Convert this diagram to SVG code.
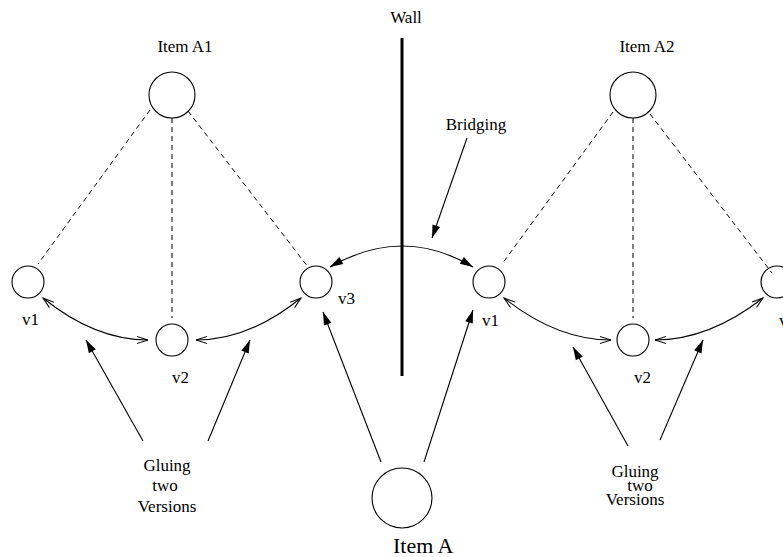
<svg xmlns="http://www.w3.org/2000/svg" width="783" height="557" viewBox="0 0 783 557">
<style>
  .node { fill: none; stroke: #000; stroke-width: 1.1; }
  .dash { fill: none; stroke: #000; stroke-width: 1; stroke-dasharray: 5,4; }
  .arr { fill: none; stroke: #000; stroke-width: 1.1; }
  .filled { marker-end: url(#fa); }
  .glue { marker-start: url(#oa); marker-end: url(#oa); }
  text { font-family: "Liberation Serif", "Times New Roman", serif; font-size: 17px; fill: #000; }
  .c { text-anchor: middle; }
</style>
<defs>
  <marker id="fa" markerUnits="userSpaceOnUse" markerWidth="14" markerHeight="10" refX="13" refY="4" orient="auto-start-reverse" overflow="visible">
    <path d="M0,0 L13,4 L0,8 z" fill="#000"/>
  </marker>
  <marker id="oa" markerUnits="userSpaceOnUse" markerWidth="12" markerHeight="10" refX="11" refY="3.5" orient="auto-start-reverse" overflow="visible">
    <path d="M0,0 L11,3.5 L0,7" fill="none" stroke="#000" stroke-width="1"/>
  </marker>
</defs>

<g id="wall">
  <line x1="402" y1="38" x2="402" y2="376" stroke="#000" stroke-width="3"/>
  <text class="c" x="406" y="23">Wall</text>
</g>

<g id="connectors">
  <line class="dash" x1="150" y1="110" x2="38" y2="264"/>
  <line class="dash" x1="172" y1="118" x2="172" y2="318"/>
  <line class="dash" x1="188" y1="111" x2="308" y2="267"/>
  <line class="dash" x1="613" y1="112" x2="502" y2="264"/>
  <line class="dash" x1="633" y1="118" x2="633" y2="318"/>
  <line class="dash" x1="650" y1="114" x2="772" y2="273"/>
  <path class="arr glue" d="M43,298 Q95,340 148,340"/>
  <path class="arr glue" d="M196,340 Q249,340 301,298"/>
  <path class="arr glue" d="M504,298 Q557,340 611,340"/>
  <path class="arr glue" d="M655,340 Q709,340 763,298"/>
  <path class="arr" d="M330,267 Q403,225 473,267" marker-start="url(#fa)" marker-end="url(#fa)"/>
  <line class="arr filled" x1="467" y1="138" x2="432" y2="238"/>
  <line class="arr filled" x1="143" y1="441" x2="86" y2="340"/>
  <line class="arr filled" x1="208" y1="441" x2="250" y2="340"/>
  <line class="arr filled" x1="381" y1="462" x2="323" y2="312"/>
  <line class="arr filled" x1="424" y1="462" x2="473" y2="310"/>
  <line class="arr filled" x1="628" y1="446" x2="573" y2="347"/>
  <line class="arr filled" x1="660" y1="440" x2="703" y2="340"/>
</g>

<g id="itemA1">
  <circle class="node" cx="172" cy="95" r="23"/>
  <text class="c" x="185" y="52">Item A1</text>
</g>
<g id="A1v1">
  <circle class="node" cx="28" cy="282" r="16"/>
  <text x="22" y="325">v1</text>
</g>
<g id="A1v2">
  <circle class="node" cx="172" cy="340" r="16"/>
  <text x="172" y="383">v2</text>
</g>
<g id="A1v3">
  <circle class="node" cx="316" cy="282" r="16"/>
  <text x="338" y="304">v3</text>
</g>

<g id="itemA2">
  <circle class="node" cx="633" cy="95" r="23"/>
  <text class="c" x="647" y="52">Item A2</text>
</g>
<g id="A2v1">
  <circle class="node" cx="489" cy="282" r="16"/>
  <text x="482" y="326">v1</text>
</g>
<g id="A2v2">
  <circle class="node" cx="633" cy="340" r="16"/>
  <text x="634" y="383">v2</text>
</g>
<g id="A2v3">
  <circle class="node" cx="777" cy="282" r="16"/>
  <text x="779" y="326">v3</text>
</g>

<g id="itemA">
  <circle class="node" cx="402" cy="498" r="30"/>
  <text x="393" y="553" style="font-size:22px">Item A</text>
</g>

<g id="bridging">
  <text class="c" x="476" y="130">Bridging</text>
</g>

<g id="gluingLeft">
  <text class="c" x="167" y="471">Gluing</text>
  <text class="c" x="165" y="491">two</text>
  <text class="c" x="167" y="512">Versions</text>
</g>
<g id="gluingRight">
  <text class="c" x="635" y="477">Gluing</text>
  <text class="c" x="640" y="491">two</text>
  <text class="c" x="635" y="505">Versions</text>
</g>
</svg>
